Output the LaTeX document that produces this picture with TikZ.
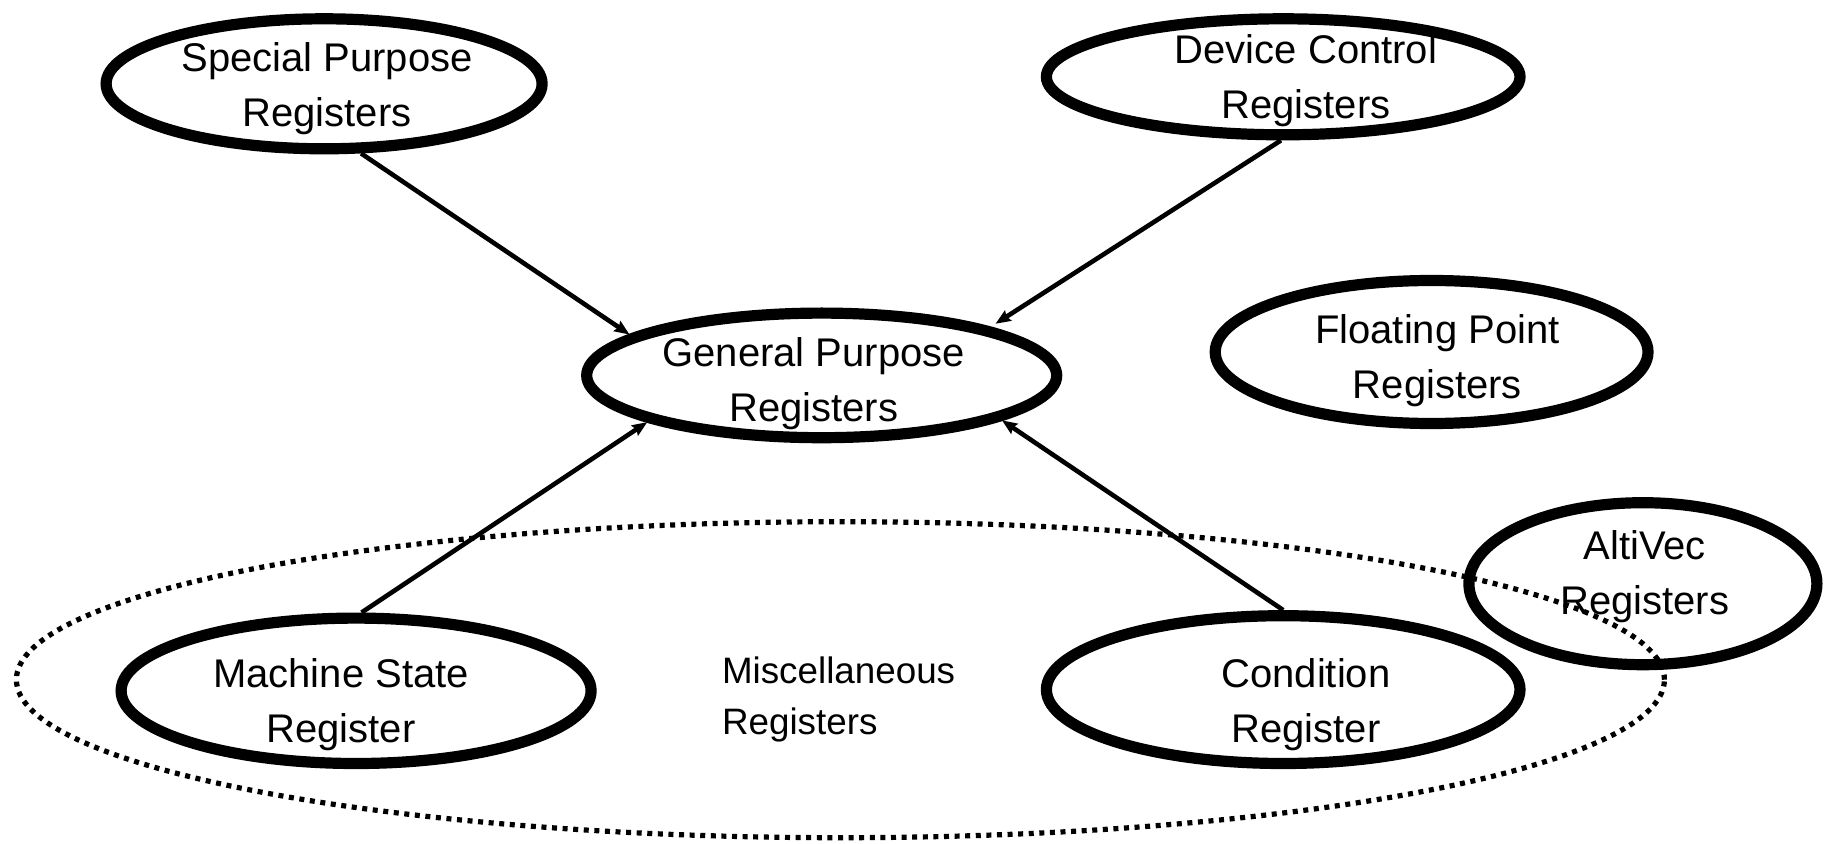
\documentclass[tikz,border=0pt]{standalone}
\usepackage{fontspec}
\setmainfont{Liberation Sans}
\usetikzlibrary{arrows.meta,shapes.geometric}
\begin{document}
\begin{tikzpicture}[x=0.5pt,y=-0.5pt,
  reg/.style={ellipse, draw, line width=5.6pt, inner sep=0pt},
  regtext/.style={align=center, inner sep=0pt, font=\fontsize{20}{27.6}\selectfont},
  misc/.style={align=left, inner sep=0pt, font=\fontsize{18.4}{25.6}\selectfont},
  group/.style={ellipse, draw, line width=2.6pt, dash pattern=on 2.5pt off 2.8pt, inner sep=0pt},
  conn/.style={line width=2.3pt, -{Stealth[length=7.5pt,width=6pt,inset=1pt]}}
]
\useasboundingbox (0,0) rectangle (1825,844);
% group ellipse
\node[group, minimum width=824pt, minimum height=158pt] (misc) at (840.4,679.7) {};
% register ellipses
\node[reg, minimum width=218pt, minimum height=65pt] (sp) at (324.1,83.8) {};
\node[reg, minimum width=236.8pt, minimum height=58pt] (dc) at (1283.2,76.8) {};
\node[reg, minimum width=235pt, minimum height=62.3pt] (gp) at (821.7,375.4) {};
\node[reg, minimum width=216.4pt, minimum height=71.5pt] (fp) at (1431.6,352) {};
\node[reg, minimum width=174pt, minimum height=81pt] (av) at (1642.9,583.7) {};
\node[reg, minimum width=235pt, minimum height=72.7pt] (ms) at (356.1,690.8) {};
\node[reg, minimum width=236.8pt, minimum height=73.9pt] (cr) at (1283.2,689.6) {};
% texts
\node[regtext] (spt) at (327,89) {Special Purpose\\Registers};
\node[regtext] (dct) at (1306,81) {Device Control\\Registers};
\node[regtext] (gpt) at (813.6,384) {General Purpose\\Registers};
\node[regtext] (fpt) at (1437.4,361) {Floating Point\\Registers};
\node[regtext] (avt) at (1644.6,577) {AltiVec\\Registers};
\node[regtext] (mst) at (341,705) {Machine State\\Register};
\node[regtext] (crt) at (1306,705) {Condition\\Register};
\node[misc, anchor=west] (misct) at (721.6,699.5) {Miscellaneous\\Registers};
% connectors
\draw[conn] (sp.-62.6) -- (gp.168.7);
\draw[conn, shorten >=3pt] (dc.-92.9) -- (gp.16.3);
\draw[conn] (ms.86.5) -- (gp.195.3);
\draw[conn] (cr.90) -- (gp.-14.9);
\end{tikzpicture}
\end{document}
